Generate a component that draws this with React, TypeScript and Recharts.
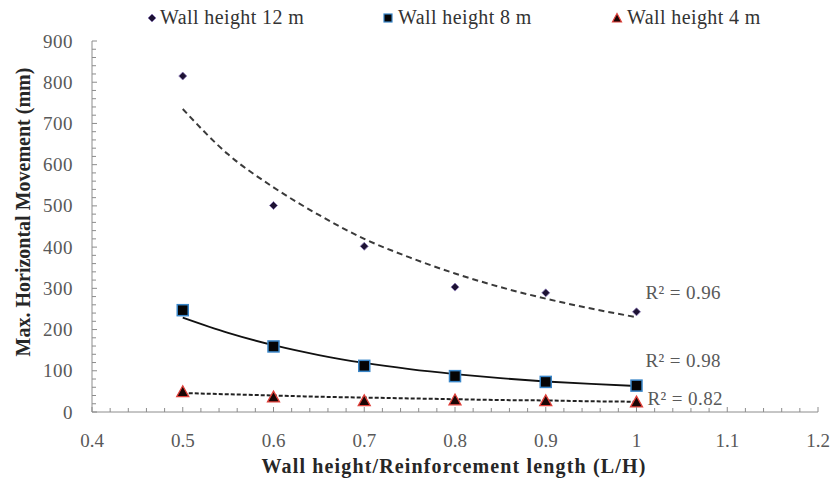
import React from 'react';
import { ComposedChart, Line, Scatter, XAxis, YAxis, Legend, ReferenceDot } from 'recharts';

const ratios = [0.5, 0.6, 0.7, 0.8, 0.9, 1.0];
const wall12 = [815, 501, 402, 303, 289, 243];
const wall8 = [247, 159, 112, 87, 73, 64];
const wall4 = [49, 36, 27, 29, 27, 24];

const trendX = [0.5, 0.55, 0.6, 0.65, 0.7, 0.75, 0.8, 0.85, 0.9, 0.95, 1.0];
const trend12 = [735, 625, 545, 478, 420, 375, 336, 303, 275, 251, 230];
const trend8 = [229, 192, 162, 138, 119, 104, 92, 82, 74, 68, 63];
const trend4 = [46, 43, 40, 37, 35, 33, 31, 29, 28, 26, 25];

const xMajorTicks = [0.4, 0.5, 0.6, 0.7, 0.8, 0.9, 1.0, 1.1, 1.2];
const xTickLabels = ['0.4', '0.5', '0.6', '0.7', '0.8', '0.9', '1', '1.1', '1.2'];
const yMajorTicks = [0, 100, 200, 300, 400, 500, 600, 700, 800, 900];

const seriesNames = ['Wall height 12 m', 'Wall height 8 m', 'Wall height 4 m'];
const r2Labels = ['R² = 0.96', 'R² = 0.98', 'R² = 0.82'];

const FONT = '"Liberation Serif", "DejaVu Serif", serif';
const TICK_COLOR = '#595959';
const AXIS_COLOR = '#8c8c8c';

// minor ticks between the majors (5 per 0.1 on x, 5 per 100 on y)
const xTicks: number[] = [];
for (let i = 0; i < xMajorTicks.length - 1; i++) {
  for (let k = 0; k < 5; k++) xTicks.push(Math.round((xMajorTicks[i] * 100 + k * 2)) / 100);
}
xTicks.push(xMajorTicks[xMajorTicks.length - 1]);
const yTicks: number[] = [];
for (let i = 0; i < yMajorTicks.length - 1; i++) {
  for (let k = 0; k < 5; k++) yTicks.push(yMajorTicks[i] + k * 20);
}
yTicks.push(yMajorTicks[yMajorTicks.length - 1]);

const pts = (xs: number[], ys: number[]) => xs.map((x, i) => ({ x, y: ys[i] }));
const d12 = pts(ratios, wall12);
const d8 = pts(ratios, wall8);
const d4 = pts(ratios, wall4);
const t12 = pts(trendX, trend12);
const t8 = pts(trendX, trend8);
const t4 = pts(trendX, trend4);

const XTick = (props: any) => {
  const { x, y, payload } = props;
  const v = payload.value as number;
  const idx = xMajorTicks.findIndex((m) => Math.abs(m - v) < 1e-6);
  const major = idx >= 0;
  return (
    <g>
      <line x1={x} x2={x} y1={y} y2={y - (major ? 5 : 4)} stroke={AXIS_COLOR} strokeWidth={1} />
      {major && (
        <text x={x} y={y + 28} textAnchor="middle" dominantBaseline="central" fill={TICK_COLOR} fontSize={19} fontFamily={FONT}>
          {xTickLabels[idx]}
        </text>
      )}
    </g>
  );
};

const YTick = (props: any) => {
  const { x, y, payload } = props;
  const v = payload.value as number;
  const major = yMajorTicks.indexOf(v) >= 0;
  return (
    <g>
      <line x1={x} x2={x + (major ? 5 : 4)} y1={y} y2={y} stroke={AXIS_COLOR} strokeWidth={1} />
      {major && (
        <text x={x - 19} y={y} textAnchor="end" dominantBaseline="central" fill={TICK_COLOR} fontSize={19} letterSpacing={0.5} fontFamily={FONT}>
          {v}
        </text>
      )}
    </g>
  );
};

const Diamond = (p: any) => {
  const { cx, cy } = p;
  if (cx == null || cy == null) return null;
  const s = 4;
  return <path d={`M${cx},${cy - s}L${cx + s},${cy}L${cx},${cy + s}L${cx - s},${cy}Z`} fill="#1d1233" stroke="#8a78b8" strokeWidth={0.8} />;
};
const Square = (p: any) => {
  const { cx, cy } = p;
  if (cx == null || cy == null) return null;
  const s = 5.5;
  return <rect x={cx - s} y={cy - s} width={2 * s} height={2 * s} fill="#050505" stroke="#3a86c8" strokeWidth={1.5} />;
};
const Triangle = (p: any) => {
  const { cx, cy } = p;
  if (cx == null || cy == null) return null;
  const s = 6;
  return <path d={`M${cx},${cy - s}L${cx + s},${cy + s * 0.8}L${cx - s},${cy + s * 0.8}Z`} fill="#1a0505" stroke="#e0403a" strokeWidth={1.3} />;
};

const LegendBox = () => {
  const textStyle: React.CSSProperties = {
    position: 'absolute',
    top: -1,
    fontFamily: FONT,
    fontSize: 20,
    letterSpacing: 0.4,
    color: '#333333',
    lineHeight: '20px',
    whiteSpace: 'nowrap',
  };
  return (
    <div style={{ position: 'relative', width: 830, height: 20 }}>
      <svg width={830} height={20} style={{ position: 'absolute', left: 0, top: 0 }}>
        <Diamond cx={152} cy={10} />
        <rect x={384} y={6} width={8} height={8} fill="#050505" stroke="#3a86c8" strokeWidth={1.2} />
        <path d="M617,5.5L621.5,14L612.5,14Z" fill="#1a0505" stroke="#e0403a" strokeWidth={1.2} />
      </svg>
      <span style={{ ...textStyle, left: 160 }}>{seriesNames[0]}</span>
      <span style={{ ...textStyle, left: 398 }}>{seriesNames[1]}</span>
      <span style={{ ...textStyle, left: 627 }}>{seriesNames[2]}</span>
    </div>
  );
};

const r2Style = { fill: TICK_COLOR, fontSize: 19, letterSpacing: 0.4, fontFamily: FONT };

export default function App() {
  return (
    <div style={{ position: 'absolute', left: 0, top: 0, width: 830, height: 478 }}>
      <ComposedChart width={830} height={478} margin={{ top: 41, right: 12, bottom: 0, left: 32 }}>
        <XAxis
          type="number"
          dataKey="x"
          domain={[0.4, 1.2]}
          ticks={xTicks}
          interval={0}
          allowDataOverflow
          tickSize={0}
          tickMargin={0}
          tickLine={false}
          tick={<XTick />}
          height={66}
          stroke={AXIS_COLOR}
          label={{
            content: (p: any) => {
              const vb = p.viewBox;
              return (
                <text x={vb.x + vb.width / 2 - 1} y={vb.y + 54} textAnchor="middle" dominantBaseline="central" fontFamily={FONT} fontSize={20} letterSpacing={1.15} fontWeight="bold" fill="#262626">
                  Wall height/Reinforcement length (L/H)
                </text>
              );
            },
          }}
        />
        <YAxis
          type="number"
          dataKey="y"
          domain={[0, 900]}
          ticks={yTicks}
          interval={0}
          allowDataOverflow
          tickSize={0}
          tickMargin={0}
          tickLine={false}
          tick={<YTick />}
          width={60}
          stroke={AXIS_COLOR}
          label={{
            content: () => {
              const cx = 23;
              const cy = 212;
              return (
                <text x={cx} y={cy} transform={`rotate(-90 ${cx} ${cy})`} textAnchor="middle" dominantBaseline="central" fontFamily={FONT} fontSize={20} fontWeight="bold" fill="#262626">
                  Max. Horizontal Movement (mm)
                </text>
              );
            },
          }}
        />
        <Legend verticalAlign="middle" align="center" layout="horizontal" wrapperStyle={{ top: 8, left: 0, width: 830, height: 20 }} content={() => <LegendBox />} />
        <Line data={t12} dataKey="y" type="monotone" stroke="#3a3a3a" strokeWidth={2} strokeDasharray="6 4" dot={false} activeDot={false} isAnimationActive={false} legendType="none" />
        <Line data={t8} dataKey="y" type="monotone" stroke="#111111" strokeWidth={1.8} dot={false} activeDot={false} isAnimationActive={false} legendType="none" />
        <Line data={t4} dataKey="y" type="monotone" stroke="#222222" strokeWidth={2} strokeDasharray="4 2" dot={false} activeDot={false} isAnimationActive={false} legendType="none" />
        <Scatter name={seriesNames[0]} data={d12} dataKey="y" shape={<Diamond />} isAnimationActive={false} />
        <Scatter name={seriesNames[1]} data={d8} dataKey="y" shape={<Square />} isAnimationActive={false} />
        <Scatter name={seriesNames[2]} data={d4} dataKey="y" shape={<Triangle />} isAnimationActive={false} />
        <ReferenceDot x={1.0} y={291} r={0} stroke="none" fill="none" label={{ value: r2Labels[0], position: 'right', offset: 9, ...r2Style }} />
        <ReferenceDot x={1.0} y={126} r={0} stroke="none" fill="none" label={{ value: r2Labels[1], position: 'right', offset: 9, ...r2Style }} />
        <ReferenceDot x={1.0} y={34} r={0} stroke="none" fill="none" label={{ value: r2Labels[2], position: 'right', offset: 11, ...r2Style }} />
      </ComposedChart>
    </div>
  );
}
